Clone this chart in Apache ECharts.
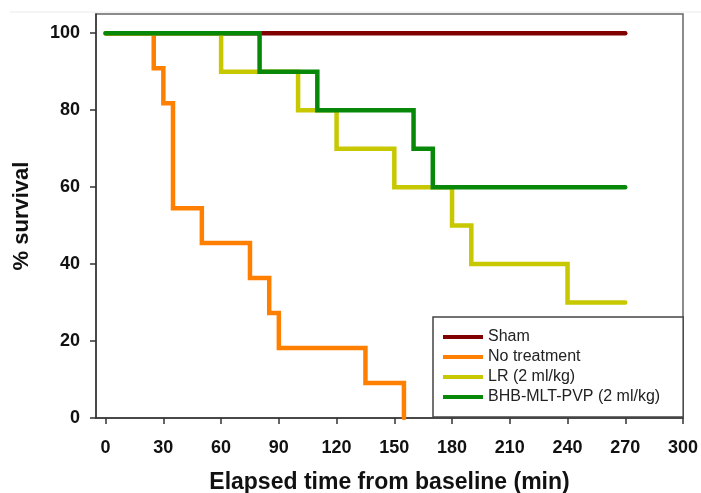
<!DOCTYPE html>
<html>
<head>
<meta charset="utf-8">
<script src="https://cdn.jsdelivr.net/npm/echarts@6/dist/echarts.min.js"></script>
<style>
  html, body { margin: 0; padding: 0; background: #fff; }
  #chart { width: 701px; height: 493px; }
</style>
</head>
<body>
<div id="chart"></div>
<script>
// survival curves (Kaplan-Meier steps), time in min, value in %
const shamTime = [0, 270];
const shamSurv = [100, 100];
const noTxTime = [0, 25, 30, 35, 50, 75, 85, 90, 135, 155];
const noTxSurv = [100, 90.9, 81.8, 54.5, 45.5, 36.4, 27.3, 18.2, 9.1, 0];
const lrTime = [0, 60, 100, 120, 150, 180, 190, 240, 270];
const lrSurv = [100, 90, 80, 70, 60, 50, 40, 30, 30];
const bhbTime = [0, 80, 110, 160, 170, 270];
const bhbSurv = [100, 90, 80, 70, 60, 60];

const xTicks = [0, 30, 60, 90, 120, 150, 180, 210, 240, 270, 300];
const yTicks = [0, 20, 40, 60, 80, 100];

const names = ['Sham', 'No treatment', 'LR (2 ml/kg)', 'BHB-MLT-PVP (2 ml/kg)'];
const colors = ['#800000', '#ff8000', '#c8c800', '#088808'];

const pairs = (t, v) => t.map((x, i) => [x, v[i]]);

const chart = echarts.init(document.getElementById('chart'));

const stepSeries = (i, data) => ({
  name: names[i],
  type: 'line',
  step: 'end',
  data: data,
  symbol: 'none',
  color: colors[i],
  lineStyle: { width: 4.5, color: colors[i], cap: 'round', join: 'miter' },
  itemStyle: { color: colors[i] },
  z: 2 + i,
  animation: false
});

const option = {
  backgroundColor: '#fff',
  animation: false,
  grid: {
    left: 96, right: 18, top: 14, bottom: 75,
    outerBoundsMode: 'none',
    containLabel: false,
    show: true, borderColor: '#666', borderWidth: 1.5
  },
  xAxis: {
    type: 'value',
    min: -5,
    max: 300,
    name: 'Elapsed time from baseline (min)',
    nameLocation: 'middle',
    nameGap: 53,
    nameTextStyle: { fontFamily: 'Liberation Sans', fontWeight: 'bold', fontSize: 23, color: '#111' },
    axisLine: { onZero: false, lineStyle: { color: '#333', width: 1.5 } },
    axisTick: { customValues: xTicks, length: 6, lineStyle: { color: '#333', width: 1.5 } },
    axisLabel: {
      customValues: xTicks, margin: 21,
      fontFamily: 'Liberation Sans', fontWeight: 'bold', fontSize: 18, color: '#111'
    },
    splitLine: { show: false }
  },
  yAxis: {
    type: 'value',
    min: 0,
    max: 105,
    name: '% survival',
    nameLocation: 'middle',
    nameGap: 63,
    nameTextStyle: { fontFamily: 'Liberation Sans', fontWeight: 'bold', fontSize: 22, color: '#111' },
    axisLine: { show: true, onZero: false, lineStyle: { color: '#333', width: 1.5 } },
    axisTick: { show: true, customValues: yTicks, length: 6, lineStyle: { color: '#333', width: 1.5 } },
    axisLabel: {
      customValues: yTicks, margin: 16,
      fontFamily: 'Liberation Sans', fontWeight: 'bold', fontSize: 18, color: '#111'
    },
    splitLine: { show: false }
  },
  legend: {
    orient: 'vertical',
    left: 433,
    top: 317,
    padding: [12, 23, 12, 10],
    borderColor: '#444',
    borderWidth: 1.5,
    backgroundColor: '#fff',
    icon: 'rect',
    itemWidth: 40,
    itemHeight: 4,
    itemGap: 4,
    textStyle: { fontFamily: 'Liberation Sans', fontSize: 16, color: '#222', lineHeight: 16 },
    data: names
  },
  graphic: [{
    type: 'line',
    shape: { x1: 10, y1: 12, x2: 701, y2: 12 },
    style: { stroke: '#ebebeb', lineWidth: 1 },
    silent: true
  }],
  series: [
    stepSeries(0, pairs(shamTime, shamSurv)),
    stepSeries(1, pairs(noTxTime, noTxSurv)),
    stepSeries(2, pairs(lrTime, lrSurv)),
    stepSeries(3, pairs(bhbTime, bhbSurv))
  ]
};

chart.setOption(option);
</script>
</body>
</html>
